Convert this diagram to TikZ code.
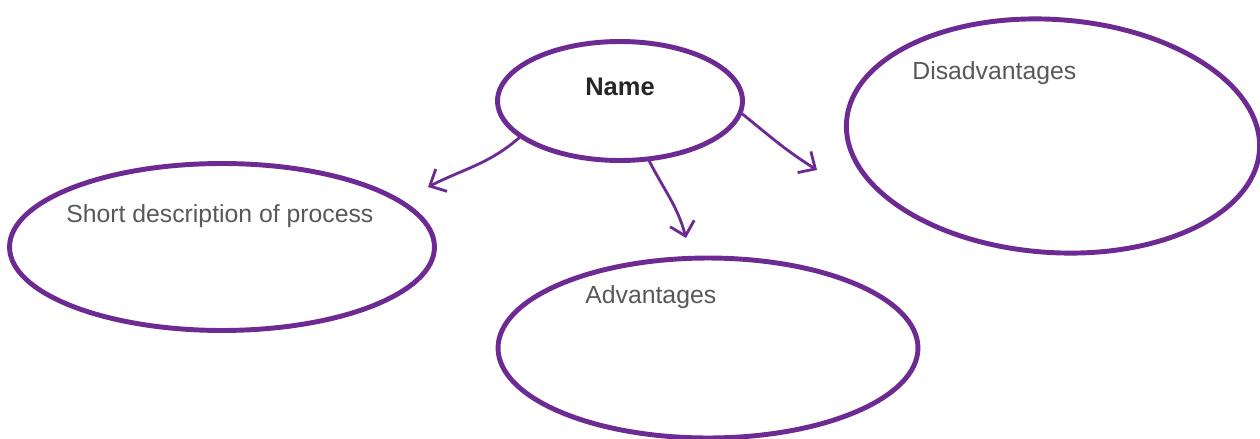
\documentclass[tikz,border=0pt]{standalone}
\usepackage{fontspec}
\setmainfont{Liberation Sans}
\usepackage{tikz}
\usepackage{xcolor}
\usetikzlibrary{arrows.meta,shapes.geometric}

\definecolor{mappurple}{RGB}{108,42,146}
\definecolor{maptext}{RGB}{88,88,88}

\tikzset{
  bubble/.style={draw=mappurple, line width=2.8pt, ellipse, inner sep=0pt},
  bubbletext/.style={text=maptext, font=\fontsize{14.1}{17}\selectfont, inner sep=0pt},
  link/.style={->, draw=mappurple, line width=1.6pt, line cap=round, line join=round}
}

\begin{document}
\begin{tikzpicture}[x=0.02cm, y=-0.02cm, >={Straight Barb[length=2.6mm, width=5mm]}]
  \useasboundingbox (0,0) rectangle (1260,439);

  \node[bubble, minimum width=4.9cm, minimum height=2.38cm] (name) at (620,101) {};
  \node[font=\fontsize{14.5}{17}\selectfont\bfseries, text=black!85, inner sep=0pt] (nametext) at (620,87) {Name};

  \node[bubble, minimum width=8.5cm, minimum height=3.34cm] (desc) at (222,247) {};
  \node[bubbletext, anchor=west] (desctext) at (66,216) {Short description of process};

  \node[bubble, minimum width=8.4cm, minimum height=3.6cm] (adv) at (708,348) {};
  \node[bubbletext, anchor=west] (advtext) at (585,297) {Advantages};

  \node[bubble, minimum width=8.28cm, minimum height=4.66cm, rotate=-4] (disadv) at (1053,136) {};
  \node[bubbletext, anchor=west] (disadvtext) at (912,73) {Disadvantages};

  \coordinate (desctip) at (428,187);
  \coordinate (advtip) at (686,238);
  \coordinate (disadvtip) at (817,170);

  \draw[link] (name.200) to[out=221, in=27] (desctip);
  \draw[link] (name.296) to[out=297, in=105] (advtip);
  \draw[link] (name.354) to[out=321, in=148] (disadvtip);
\end{tikzpicture}
\end{document}
